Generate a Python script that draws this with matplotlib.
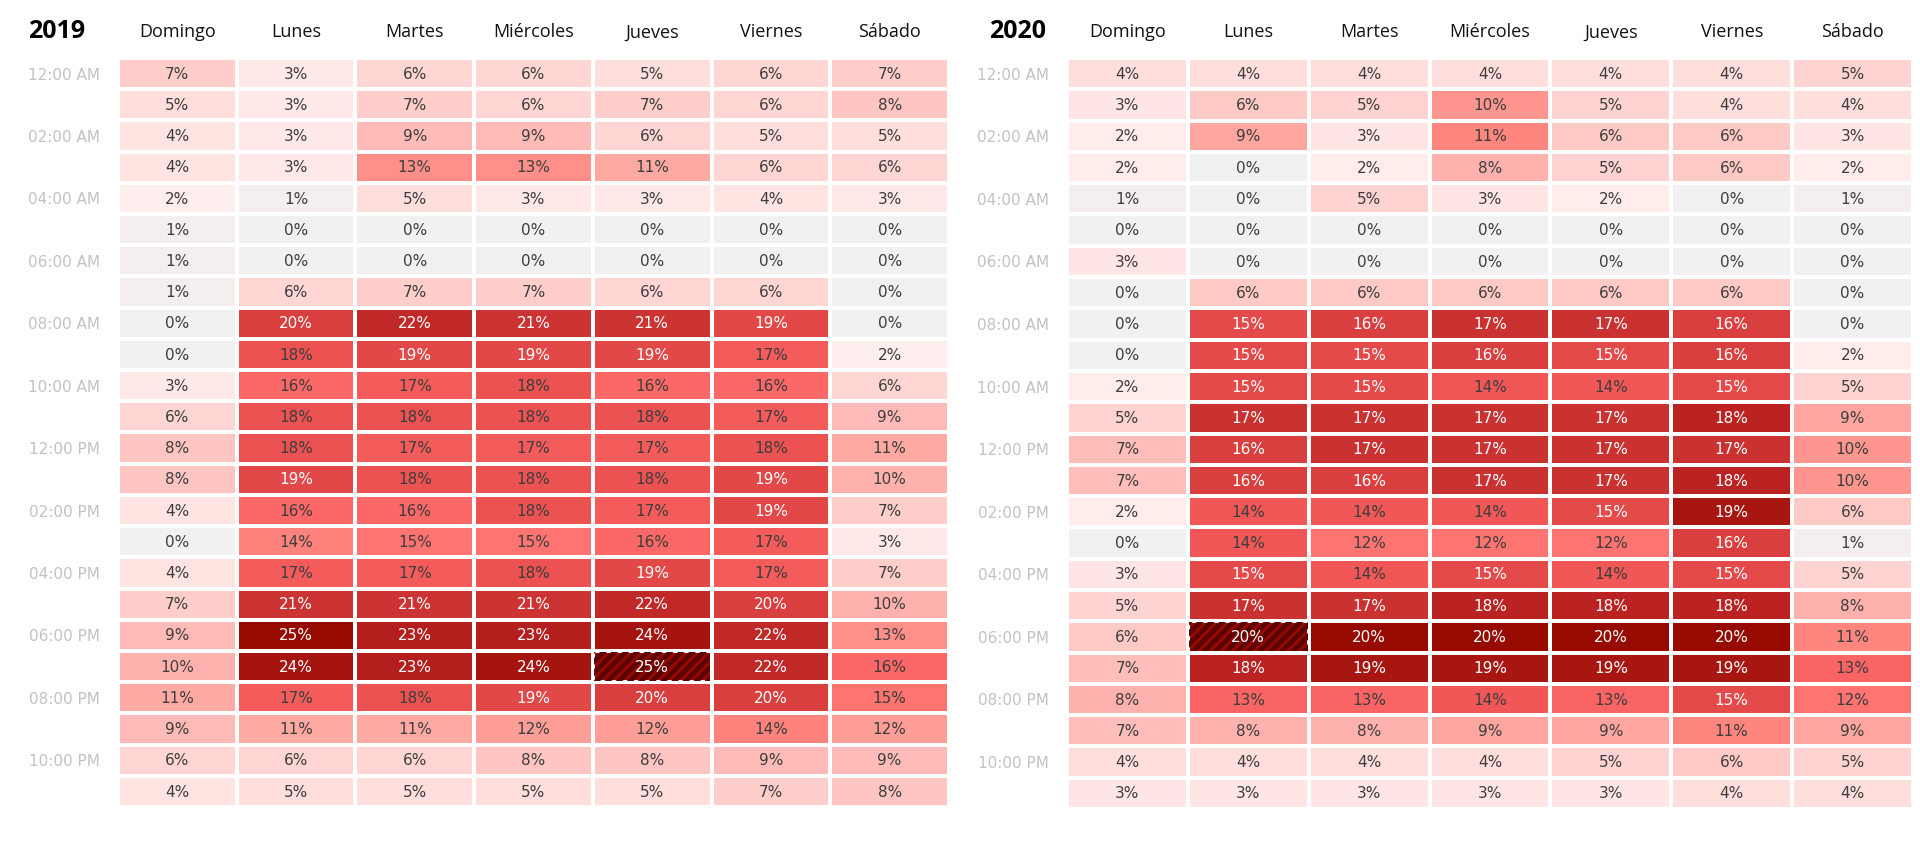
import numpy as np
import matplotlib
matplotlib.use("Agg")
import matplotlib.pyplot as plt
from matplotlib.colors import LinearSegmentedColormap
from matplotlib.patches import Rectangle

# Datos
dias = ["Domingo", "Lunes", "Martes", "Miércoles", "Jueves", "Viernes", "Sábado"]
horas = ["12:00 AM", "", "02:00 AM", "", "04:00 AM", "", "06:00 AM", "", "08:00 AM", "",
         "10:00 AM", "", "12:00 PM", "", "02:00 PM", "", "04:00 PM", "", "06:00 PM", "",
         "08:00 PM", "", "10:00 PM", ""]

valores_2019 = [
    [7, 3, 6, 6, 5, 6, 7],
    [5, 3, 7, 6, 7, 6, 8],
    [4, 3, 9, 9, 6, 5, 5],
    [4, 3, 13, 13, 11, 6, 6],
    [2, 1, 5, 3, 3, 4, 3],
    [1, 0, 0, 0, 0, 0, 0],
    [1, 0, 0, 0, 0, 0, 0],
    [1, 6, 7, 7, 6, 6, 0],
    [0, 20, 22, 21, 21, 19, 0],
    [0, 18, 19, 19, 19, 17, 2],
    [3, 16, 17, 18, 16, 16, 6],
    [6, 18, 18, 18, 18, 17, 9],
    [8, 18, 17, 17, 17, 18, 11],
    [8, 19, 18, 18, 18, 19, 10],
    [4, 16, 16, 18, 17, 19, 7],
    [0, 14, 15, 15, 16, 17, 3],
    [4, 17, 17, 18, 19, 17, 7],
    [7, 21, 21, 21, 22, 20, 10],
    [9, 25, 23, 23, 24, 22, 13],
    [10, 24, 23, 24, 25, 22, 16],
    [11, 17, 18, 19, 20, 20, 15],
    [9, 11, 11, 12, 12, 14, 12],
    [6, 6, 6, 8, 8, 9, 9],
    [4, 5, 5, 5, 5, 7, 8],
]

valores_2020 = [
    [4, 4, 4, 4, 4, 4, 5],
    [3, 6, 5, 10, 5, 4, 4],
    [2, 9, 3, 11, 6, 6, 3],
    [2, 0, 2, 8, 5, 6, 2],
    [1, 0, 5, 3, 2, 0, 1],
    [0, 0, 0, 0, 0, 0, 0],
    [3, 0, 0, 0, 0, 0, 0],
    [0, 6, 6, 6, 6, 6, 0],
    [0, 15, 16, 17, 17, 16, 0],
    [0, 15, 15, 16, 15, 16, 2],
    [2, 15, 15, 14, 14, 15, 5],
    [5, 17, 17, 17, 17, 18, 9],
    [7, 16, 17, 17, 17, 17, 10],
    [7, 16, 16, 17, 17, 18, 10],
    [2, 14, 14, 14, 15, 19, 6],
    [0, 14, 12, 12, 12, 16, 1],
    [3, 15, 14, 15, 14, 15, 5],
    [5, 17, 17, 18, 18, 18, 8],
    [6, 20, 20, 20, 20, 20, 11],
    [7, 18, 19, 19, 19, 19, 13],
    [8, 13, 13, 14, 13, 15, 12],
    [7, 8, 8, 9, 9, 11, 9],
    [4, 4, 4, 4, 5, 6, 5],
    [3, 3, 3, 3, 3, 4, 4],
]

# celda maxima (marcada con rayas): (fila hora, columna dia)
max_2019 = (19, 4)
max_2020 = (18, 1)

cmap = LinearSegmentedColormap.from_list("rojos", [
    (0.0, "#f2f1f2"), (0.045, "#f4eeee"), (0.08, "#ffeeee"), (0.2, "#ffdedc"),
    (0.3, "#ffc9c6"), (0.45, "#ffa6a0"), (0.55, "#ff867f"), (0.62, "#ff6c6c"),
    (0.7, "#f15757"), (0.8, "#d93f3f"), (0.9, "#bc2424"), (1.0, "#960a00"),
])

W, H = 1920, 841
fig = plt.figure(figsize=(W / 100, H / 100), dpi=100)
plt.rcParams["hatch.linewidth"] = 3.5


def panel(rect, datos, anio, celda_max, anio_x):
    v = np.array(datos, dtype=float)
    vmax = v.max()
    ax = fig.add_axes([rect[0] / W, 1 - (rect[1] + rect[3]) / H, rect[2] / W, rect[3] / H])
    ax.pcolormesh(np.arange(8), np.arange(25), v / vmax, cmap=cmap, vmin=0, vmax=1,
                  edgecolors="white", linewidth=1.6)
    ax.set_xlim(0, 7)
    ax.set_ylim(24, 0)
    r, c = celda_max
    ax.add_patch(Rectangle((c + 0.01, r + 0.035), 0.98, 0.93, facecolor="none",
                           edgecolor="#5c0303", hatch="///", linewidth=0))
    for i in range(v.shape[0]):
        for j in range(v.shape[1]):
            col = "white" if v[i, j] / vmax >= 0.75 else "#3d3d3d"
            ax.text(j + 0.5, i + 0.52, f"{int(v[i, j])}%", ha="center", va="center",
                    fontsize=11, color=col, family="DejaVu Sans")
    ax.xaxis.tick_top()
    ax.set_xticks(np.arange(7) + 0.5)
    ax.set_xticklabels(dias, fontsize=13, family="Open Sans", color="#111111")
    ax.set_yticks(np.arange(24) + 0.5)
    ax.set_yticklabels(horas, fontsize=11, family="DejaVu Sans", color="#c2c2c2")
    ax.tick_params(length=0, axis="x", pad=12)
    ax.tick_params(length=0, axis="y", pad=13)
    for s in ax.spines.values():
        s.set_visible(False)
    fig.text(anio_x / W, 1 - 31 / H, anio, ha="center", va="center", fontsize=18,
             fontweight="bold", family="Open Sans", color="black")


panel((118, 58, 831, 749), valores_2019, "2019", max_2019, 57)
panel((1067, 58, 846, 751), valores_2020, "2020", max_2020, 1018)

fig.savefig("out.png", dpi=100, facecolor="white")
